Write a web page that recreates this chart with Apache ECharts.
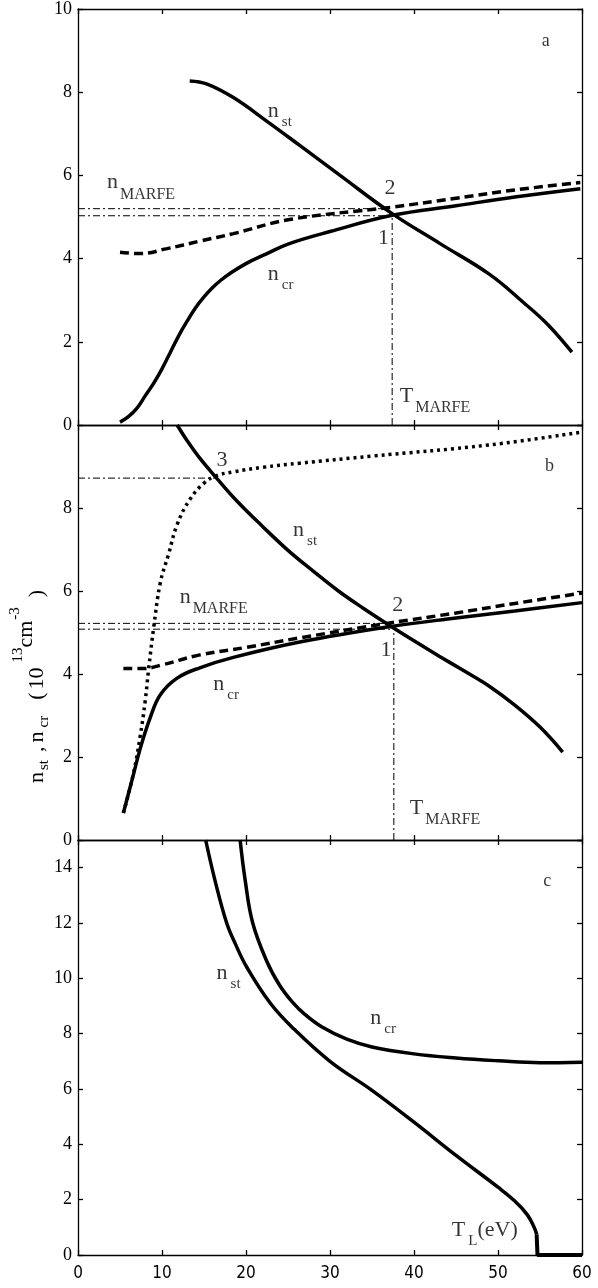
<!DOCTYPE html>
<html><head><meta charset="utf-8">
<script src="https://cdn.jsdelivr.net/npm/echarts@6/dist/echarts.min.js"></script>
<style>html,body{margin:0;padding:0;background:#fff}#c{width:598px;height:1288px}</style>
</head><body><div id="c"></div>
<script>
// ---------- data ----------
const xTickLabels = ['0','10','20','30','40','50','60'];
// Panel a
const aNstT = [13.3,15.3,18.5,22.5,26.4,31.2,37.4,43.1,49,53,56,58.8];
const aNstN = [8.27,8.2,7.87,7.3,6.72,6.0,5.08,4.36,3.62,2.95,2.4,1.75];
const aNcrT = [5,6,7,8,9,10,11,12,13,14,15,16,17,18,20,22.5,25,30,37.4,45,52,59.8];
const aNcrN = [0.07,0.2,0.4,0.7,1.0,1.35,1.75,2.15,2.5,2.82,3.08,3.3,3.48,3.63,3.88,4.12,4.35,4.65,5.04,5.27,5.48,5.68];
const aMarT = [5,7.4,10.6,14.5,18.5,25.2,37.1,45,52,59.8];
const aMarN = [4.15,4.12,4.24,4.42,4.6,4.94,5.23,5.45,5.65,5.83];
const aLevelN = [5.2,5.03];
const aLevelEndT = [37.0,37.4];
const aTmarfe = 37.4;
const aTmarfeTop = 5.05;
// Panel b
const bNstT = [11.8,13,14.5,16.5,19,22,25,28,31,34,37.1,40,43,46,49,52,55,57.7];
const bNstN = [10,9.62,9.2,8.72,8.15,7.55,6.98,6.48,6.0,5.58,5.17,4.8,4.43,4.07,3.7,3.25,2.72,2.12];
const bNcrT = [5.4,6.5,7.4,8.6,9.8,11.8,14.5,18.5,26.4,37.1,45,52,60];
const bNcrN = [0.65,1.5,2.2,2.95,3.5,3.9,4.15,4.4,4.77,5.14,5.35,5.52,5.72];
const bMarT = [5.4,7.7,10,14.5,20,26.4,37.1,45,52,60];
const bMarN = [4.13,4.13,4.22,4.46,4.64,4.87,5.23,5.47,5.7,5.95];
const bDotT = [5.4,6.6,7.4,8,8.4,9,9.8,10.8,11.8,13.3,15,16.5,18.5,22,26.4,35,49,60];
const bDotN = [0.65,1.6,2.5,3.35,4.1,5.1,6.2,6.9,7.6,8.2,8.6,8.78,8.87,8.98,9.08,9.25,9.52,9.83];
const bLevelN = [5.22,5.08,8.72];
const bLevelEndT = [37.0,37.5,16.5];
const bTmarfe = 37.6;
const bTmarfeTop = 5.1;
// Panel c
const cNstT = [15.2,16.3,17.7,18.8,20.1,22.9,25.6,30,35,40,45,50,52,53.5,54.3,54.6];
const cNstN = [15,13.55,12.0,11.2,10.4,9.1,8.2,7.0,5.95,4.8,3.6,2.45,1.95,1.45,1.0,0.75];
const cNstTailT = [54.6,54.7,60];
const cNstTailN = [0.75,0,0];
const cNcrT = [19.3,19.9,20.8,22.5,24,25.5,27,29,32,35,40,45,50,55,60];
const cNcrN = [15,13.55,12.0,10.6,9.75,9.15,8.7,8.25,7.8,7.52,7.27,7.12,7.02,6.95,6.97];

// annotation texts (anchor in data coords: left edge / vertical middle of first glyph)
const aLabels = [
  {T:22.6, n:7.55, text:'{m|n}{s|st}'},
  {T:3.45, n:5.83, text:'{m|n}{sm|MARFE}'},
  {T:22.6, n:3.62, text:'{m|n}{s|cr}'},
  {T:36.5, n:5.68, text:'{m|2}'},
  {T:35.7, n:4.48, text:'{m|1}'},
  {T:38.3, n:0.7,  text:'{m|T}{sm|MARFE}'},
  {T:55.2, n:9.23, text:'{l|a}'}
];
const bLabels = [
  {T:16.5, n:9.16, text:'{m|3}'},
  {T:25.6, n:7.47, text:'{m|n}{s|st}'},
  {T:37.4, n:5.66, text:'{m|2}'},
  {T:36.0, n:4.58, text:'{m|1}'},
  {T:12.1, n:5.86, text:'{m|n}{sm|MARFE}'},
  {T:16.1, n:3.76, text:'{m|n}{s|cr}'},
  {T:39.5, n:0.77, text:'{m|T}{sm|MARFE}'},
  {T:55.6, n:9.01, text:'{l|b}'}
];
const cLabels = [
  {T:16.5, n:10.19, text:'{m|n}{s|st}'},
  {T:34.8, n:8.57, text:'{m|n}{s|cr}'},
  {T:44.5, n:0.9,  text:'{m|T}{s|L}{m|(eV)}'},
  {T:55.4, n:13.5, text:'{l|c}'}
];

// ---------- styles ----------
const SERIF = 'Liberation Serif';
const NARROW = "'Liberation Sans Narrow','DejaVu Sans Condensed','Liberation Sans',sans-serif";
const BLACK = '#000';
const zip = (a,b) => a.map((v,i)=>[v,b[i]]);

const grids = [
  {left:78, right:16, top:8, height:417},
  {left:78, right:16, top:425, height:415},
  {left:78, right:16, top:840, height:415}
];
const yRanges = [{min:0,max:10,interval:2},{min:0,max:10,interval:2},{min:0,max:15,interval:2}];

const axLine = {show:true, onZero:false, lineStyle:{color:BLACK, width:1.3}};
const axTick = {show:true, inside:true, length:5, lineStyle:{color:BLACK, width:1.3}};

const xAxes = [], yAxes = [];
for (let g=0; g<3; g++) {
  xAxes.push({type:'value', gridIndex:g, position:'bottom', min:0, max:60, interval:10,
    axisLine:axLine, axisTick:axTick, splitLine:{show:false},
    axisLabel:{show:g===2, margin:10, color:BLACK, fontFamily:NARROW, fontSize:17,
      formatter:(v)=>xTickLabels[Math.round(v/10)]}});
}
for (let g=0; g<3; g++) {
  xAxes.push({type:'value', gridIndex:g, position:'top', min:0, max:60, interval:10,
    axisLine:axLine, axisTick:axTick, splitLine:{show:false}, axisLabel:{show:false}});
}
for (let g=0; g<3; g++) {
  yAxes.push(Object.assign({type:'value', gridIndex:g, position:'left',
    axisLine:axLine, axisTick:axTick, splitLine:{show:false},
    axisLabel:{show:true, margin:6, color:BLACK, fontFamily:SERIF, fontSize:18,
      showMaxLabel: g===0}}, yRanges[g]));
}
for (let g=0; g<3; g++) {
  yAxes.push(Object.assign({type:'value', gridIndex:g, position:'right',
    axisLine:axLine, axisTick:axTick, splitLine:{show:false}, axisLabel:{show:false}}, yRanges[g]));
}

function curve(g, T, N, kind, extra) {
  const ls = {color:BLACK, width:3.5, cap:'butt'};
  if (kind==='dash') ls.type=[9,5];
  if (kind==='dot') {ls.type=[3,4];}
  if (kind==='dashdot') {ls.width=1; ls.type=[7,3,2,3];}
  return Object.assign({type:'line', xAxisIndex:g, yAxisIndex:g, data:zip(T,N), showSymbol:false,
    symbol:'none', smooth: kind==='dashdot'?false:0.4, lineStyle:ls, silent:true, clip:false,
    z: kind==='dashdot'?1:3}, extra||{});
}
function hline(g, n, t1) { return curve(g, [0,t1], [n,n], 'dashdot'); }
function vline(g, t, top) { return curve(g, [t,t], [0,top], 'dashdot'); }

const RICH = {
  m:{fontFamily:SERIF, fontSize:22, color:BLACK, verticalAlign:'middle'},
  s:{fontFamily:SERIF, fontSize:15, color:BLACK, verticalAlign:'middle', padding:[22,0,0,3]},
  sm:{fontFamily:SERIF, fontSize:16, color:BLACK, verticalAlign:'middle', padding:[24,0,0,2]},
  l:{fontFamily:SERIF, fontSize:18, color:BLACK, verticalAlign:'middle'}
};
function labelSeries(g, labels) {
  return {type:'scatter', xAxisIndex:g, yAxisIndex:g, symbolSize:0, silent:true, z:5,
    data: labels.map(l=>({value:[l.T,l.n], label:{formatter:l.text}})),
    label:{show:true, position:'right', distance:0, color:BLACK, fontFamily:SERIF, fontSize:22, rich:RICH}};
}

const series = [];
// panel a
aLevelN.forEach((n,i)=>series.push(hline(0,n,aLevelEndT[i])));
series.push(vline(0,aTmarfe,aTmarfeTop));
series.push(curve(0,aNstT,aNstN,'solid'));
series.push(curve(0,aNcrT,aNcrN,'solid'));
series.push(curve(0,aMarT,aMarN,'dash'));
series.push(labelSeries(0,aLabels));
// panel b
bLevelN.forEach((n,i)=>series.push(hline(1,n,bLevelEndT[i])));
series.push(vline(1,bTmarfe,bTmarfeTop));
series.push(curve(1,bNstT,bNstN,'solid'));
series.push(curve(1,bNcrT,bNcrN,'solid'));
series.push(curve(1,bMarT,bMarN,'dash'));
series.push(curve(1,bDotT,bDotN,'dot'));
series.push(labelSeries(1,bLabels));
// panel c
series.push(curve(2,cNstT,cNstN,'solid'));
series.push(curve(2,cNstTailT,cNstTailN,'solid',{smooth:false, lineStyle:{color:BLACK,width:4,cap:'butt'}}));
series.push(curve(2,cNcrT,cNcrN,'solid'));
series.push(labelSeries(2,cLabels));

const ZR = (o)=>Object.assign({fontFamily:SERIF, fill:BLACK, verticalAlign:'middle'}, o);
const yName = {
  type:'text', x:37, y:783, rotation:Math.PI/2, silent:true, z:10,
  style:{
    text:'{m|n}{s|st}{c|,}{m2|n}{s2|cr}{p|(}{t|10}{u|13}{cm|cm}{u2|-3}{q|)}',
    align:'left', verticalAlign:'middle', fill:BLACK, fontFamily:SERIF, fontSize:22,
    rich:{
      m:ZR({fontSize:22}),
      s:ZR({fontSize:15, padding:[14,0,0,2]}),
      c:ZR({fontSize:22, padding:[0,0,0,8]}),
      m2:ZR({fontSize:22, padding:[0,0,0,4]}),
      s2:ZR({fontSize:15, padding:[14,0,0,4]}),
      p:ZR({fontSize:22, padding:[0,0,0,16]}),
      t:ZR({fontSize:22, padding:[0,0,0,3]}),
      u:ZR({fontSize:15, padding:[0,0,38,5]}),
      cm:ZR({fontSize:22, padding:[0,0,22,0]}),
      u2:ZR({fontSize:15, padding:[0,0,44,1]}),
      q:ZR({fontSize:22, padding:[0,0,0,10]})
    }
  }
};

const chart = echarts.init(document.getElementById('c'), null, {renderer:'canvas'});
chart.setOption({
  animation:false,
  backgroundColor:'#fff',
  grid:grids,
  xAxis:xAxes,
  yAxis:yAxes,
  series:series,
  graphic:[yName]
});
</script></body></html>
